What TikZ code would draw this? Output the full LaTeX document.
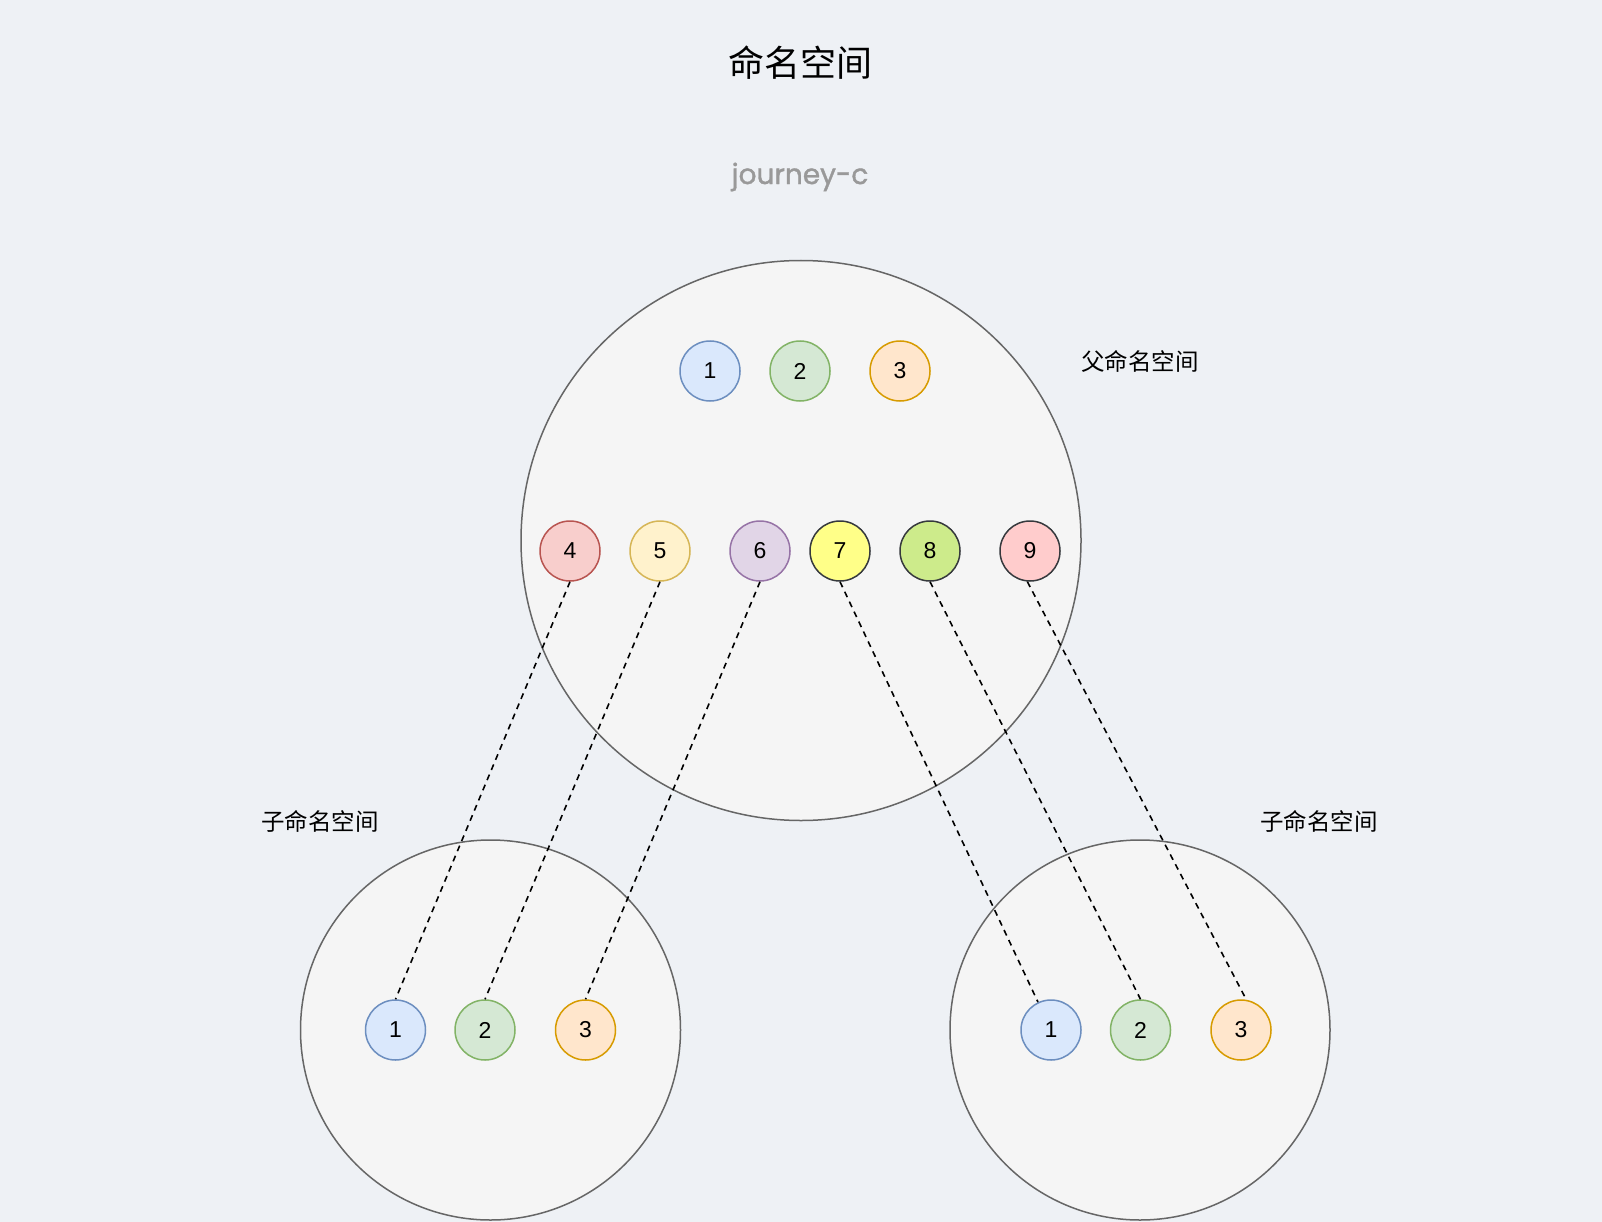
\documentclass[tikz,border=0pt]{standalone}
\usepackage{fontspec}
\setmainfont{Liberation Sans}
\newfontfamily\cjk{Noto Sans CJK SC}
\newfontfamily\jfont[FakeBold=1.3]{Poppins}
\definecolor{bgc}{HTML}{EEF1F5}
\definecolor{bigfill}{HTML}{F5F5F5}
\definecolor{bigline}{HTML}{666666}
\definecolor{fA}{HTML}{DAE8FC}\definecolor{sA}{HTML}{6C8EBF}
\definecolor{fB}{HTML}{D5E8D4}\definecolor{sB}{HTML}{82B366}
\definecolor{fC}{HTML}{FFE6CC}\definecolor{sC}{HTML}{D79B00}
\definecolor{fD}{HTML}{F8CECC}\definecolor{sD}{HTML}{B85450}
\definecolor{fE}{HTML}{FFF2CC}\definecolor{sE}{HTML}{D6B656}
\definecolor{fF}{HTML}{E1D5E7}\definecolor{sF}{HTML}{9673A6}
\definecolor{fG}{HTML}{FFFF88}\definecolor{sG}{HTML}{36393D}
\definecolor{fH}{HTML}{CDEB8B}
\definecolor{fI}{HTML}{FFCCCC}
\definecolor{jgray}{HTML}{999999}
\begin{document}
\begin{tikzpicture}[x=1pt,y=-1pt,
  bigcirc/.style={circle,draw=bigline,fill=bigfill,line width=1.5pt,inner sep=0pt},
  ball/.style 2 args={circle,draw=#2,fill=#1,line width=1.5pt,minimum size=60pt,inner sep=0pt,font=\fontsize{23}{23}\selectfont},
  lbl/.style={font=\cjk\fontsize{23.5}{25}\selectfont,inner sep=0pt},
  link/.style={draw=black,line width=1.6pt,dash pattern=on 6pt off 5pt}]
\fill[bgc] (0,0) rectangle (1602,1222);
\useasboundingbox (0,0) rectangle (1602,1222);
\node[font=\cjk\fontsize{36}{38}\selectfont,inner sep=0pt] (title) at (800,63) {命名空间};
\node[font=\jfont\fontsize{28}{30}\selectfont,text=jgray,inner sep=0pt] (brand) at (800,177) {journey-c};
% big circles
\node[bigcirc,minimum size=560pt] (parent) at (801,540.5) {};
\node[bigcirc,minimum size=380pt] (childL) at (490.5,1030) {};
\node[bigcirc,minimum size=380pt] (childR) at (1140,1030) {};
% labels
\node[lbl] (lparent) at (1140,361) {父命名空间};
\node[lbl] (lchildL) at (320,821) {子命名空间};
\node[lbl] (lchildR) at (1319,821) {子命名空间};
% parent top row
\node[ball={fA}{sA}] (p1) at (710,371) {1};
\node[ball={fB}{sB}] (p2) at (800,371) {2};
\node[ball={fC}{sC}] (p3) at (900,371) {3};
% parent bottom row
\node[ball={fD}{sD}] (p4) at (570,551) {4};
\node[ball={fE}{sE}] (p5) at (660,551) {5};
\node[ball={fF}{sF}] (p6) at (760,551) {6};
\node[ball={fG}{sG}] (p7) at (840,551) {7};
\node[ball={fH}{sG}] (p8) at (930,551) {8};
\node[ball={fI}{sG}] (p9) at (1030,551) {9};
% left child
\node[ball={fA}{sA}] (l1) at (395.5,1030) {1};
\node[ball={fB}{sB}] (l2) at (485,1030) {2};
\node[ball={fC}{sC}] (l3) at (585.5,1030) {3};
% right child
\node[ball={fA}{sA}] (r1) at (1051,1030) {1};
\node[ball={fB}{sB}] (r2) at (1140.5,1030) {2};
\node[ball={fC}{sC}] (r3) at (1241,1030) {3};
% links
\draw[link] (p4.south) -- (l1.north);
\draw[link] (p5.south) -- (l2.north);
\draw[link] (p6.south) -- (l3.north);
\draw[link] (p7.south) -- (r1.115);
\draw[link] (p8.south) -- (r2.north);
\draw[link] (p9.-95) -- (r3.80);
\end{tikzpicture}
\end{document}
